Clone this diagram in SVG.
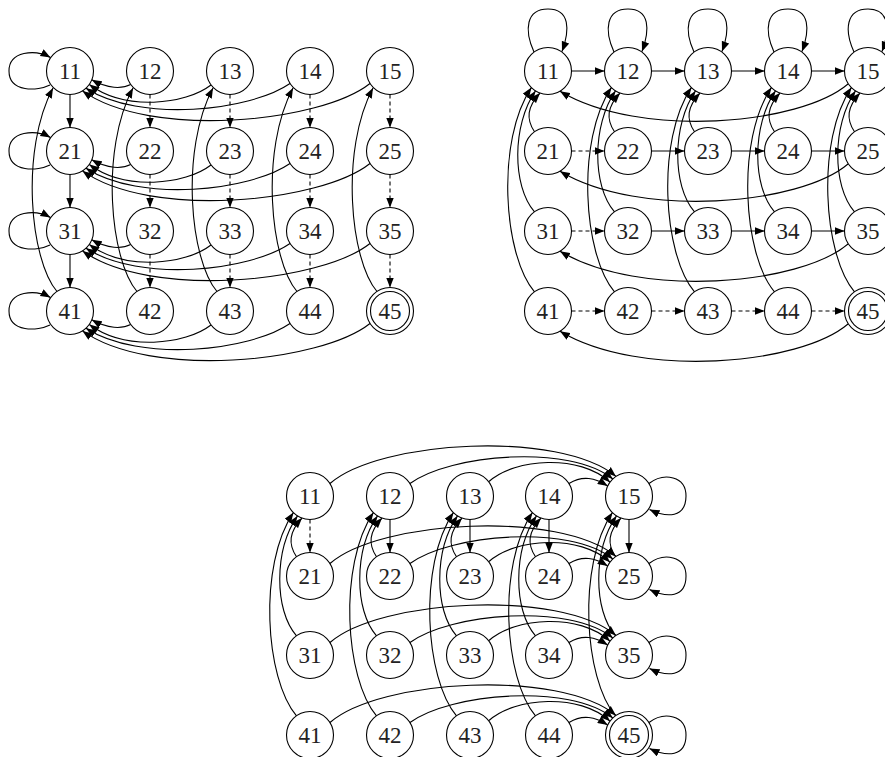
<svg xmlns="http://www.w3.org/2000/svg" width="885" height="757" viewBox="0 0 885 757">
<style>
.n circle{fill:#fff;stroke:#000;stroke-width:1.1}
.n text{font-family:"Liberation Serif","DejaVu Serif",serif;font-size:23px;text-anchor:middle;fill:#222}
.e path{fill:none;stroke:#000;stroke-width:1.1;marker-end:url(#a)}
.e path.d{stroke-dasharray:4 3}
</style>
<defs>
<marker id="a" markerUnits="userSpaceOnUse" markerWidth="10" markerHeight="8" viewBox="0 0 9 7" refX="9" refY="3.5" orient="auto"><path d="M0,0 L9,3.5 L0,7 z" fill="#000"/></marker>
</defs>
<rect width="885" height="757" fill="#fff"/>

<!-- Diagram A nodes -->
<g class="n">
<g id="a11"><circle cx="70" cy="71" r="23.5"/><text x="70" y="79">11</text></g>
<g id="a12"><circle cx="150" cy="71" r="23.5"/><text x="150" y="79">12</text></g>
<g id="a13"><circle cx="230" cy="71" r="23.5"/><text x="230" y="79">13</text></g>
<g id="a14"><circle cx="310" cy="71" r="23.5"/><text x="310" y="79">14</text></g>
<g id="a15"><circle cx="390" cy="71" r="23.5"/><text x="390" y="79">15</text></g>
<g id="a21"><circle cx="70" cy="151" r="23.5"/><text x="70" y="159">21</text></g>
<g id="a22"><circle cx="150" cy="151" r="23.5"/><text x="150" y="159">22</text></g>
<g id="a23"><circle cx="230" cy="151" r="23.5"/><text x="230" y="159">23</text></g>
<g id="a24"><circle cx="310" cy="151" r="23.5"/><text x="310" y="159">24</text></g>
<g id="a25"><circle cx="390" cy="151" r="23.5"/><text x="390" y="159">25</text></g>
<g id="a31"><circle cx="70" cy="231" r="23.5"/><text x="70" y="239">31</text></g>
<g id="a32"><circle cx="150" cy="231" r="23.5"/><text x="150" y="239">32</text></g>
<g id="a33"><circle cx="230" cy="231" r="23.5"/><text x="230" y="239">33</text></g>
<g id="a34"><circle cx="310" cy="231" r="23.5"/><text x="310" y="239">34</text></g>
<g id="a35"><circle cx="390" cy="231" r="23.5"/><text x="390" y="239">35</text></g>
<g id="a41"><circle cx="70" cy="311" r="23.5"/><text x="70" y="319">41</text></g>
<g id="a42"><circle cx="150" cy="311" r="23.5"/><text x="150" y="319">42</text></g>
<g id="a43"><circle cx="230" cy="311" r="23.5"/><text x="230" y="319">43</text></g>
<g id="a44"><circle cx="310" cy="311" r="23.5"/><text x="310" y="319">44</text></g>
<g id="a45"><circle cx="390" cy="311" r="23.5"/><circle cx="390" cy="311" r="19.5"/><text x="390" y="319">45</text></g>
</g>

<!-- Diagram B nodes -->
<g class="n">
<g id="b11"><circle cx="548" cy="71" r="23.5"/><text x="548" y="79">11</text></g>
<g id="b12"><circle cx="628" cy="71" r="23.5"/><text x="628" y="79">12</text></g>
<g id="b13"><circle cx="708" cy="71" r="23.5"/><text x="708" y="79">13</text></g>
<g id="b14"><circle cx="788" cy="71" r="23.5"/><text x="788" y="79">14</text></g>
<g id="b15"><circle cx="868" cy="71" r="23.5"/><text x="868" y="79">15</text></g>
<g id="b21"><circle cx="548" cy="151" r="23.5"/><text x="548" y="159">21</text></g>
<g id="b22"><circle cx="628" cy="151" r="23.5"/><text x="628" y="159">22</text></g>
<g id="b23"><circle cx="708" cy="151" r="23.5"/><text x="708" y="159">23</text></g>
<g id="b24"><circle cx="788" cy="151" r="23.5"/><text x="788" y="159">24</text></g>
<g id="b25"><circle cx="868" cy="151" r="23.5"/><text x="868" y="159">25</text></g>
<g id="b31"><circle cx="548" cy="231" r="23.5"/><text x="548" y="239">31</text></g>
<g id="b32"><circle cx="628" cy="231" r="23.5"/><text x="628" y="239">32</text></g>
<g id="b33"><circle cx="708" cy="231" r="23.5"/><text x="708" y="239">33</text></g>
<g id="b34"><circle cx="788" cy="231" r="23.5"/><text x="788" y="239">34</text></g>
<g id="b35"><circle cx="868" cy="231" r="23.5"/><text x="868" y="239">35</text></g>
<g id="b41"><circle cx="548" cy="311" r="23.5"/><text x="548" y="319">41</text></g>
<g id="b42"><circle cx="628" cy="311" r="23.5"/><text x="628" y="319">42</text></g>
<g id="b43"><circle cx="708" cy="311" r="23.5"/><text x="708" y="319">43</text></g>
<g id="b44"><circle cx="788" cy="311" r="23.5"/><text x="788" y="319">44</text></g>
<g id="b45"><circle cx="868" cy="311" r="23.5"/><circle cx="868" cy="311" r="19.5"/><text x="868" y="319">45</text></g>
</g>

<!-- Diagram C nodes -->
<g class="n">
<g id="c11"><circle cx="310" cy="496" r="23.5"/><text x="310" y="504">11</text></g>
<g id="c12"><circle cx="390" cy="496" r="23.5"/><text x="390" y="504">12</text></g>
<g id="c13"><circle cx="470" cy="496" r="23.5"/><text x="470" y="504">13</text></g>
<g id="c14"><circle cx="549" cy="496" r="23.5"/><text x="549" y="504">14</text></g>
<g id="c15"><circle cx="629" cy="496" r="23.5"/><text x="629" y="504">15</text></g>
<g id="c21"><circle cx="310" cy="576" r="23.5"/><text x="310" y="584">21</text></g>
<g id="c22"><circle cx="390" cy="576" r="23.5"/><text x="390" y="584">22</text></g>
<g id="c23"><circle cx="470" cy="576" r="23.5"/><text x="470" y="584">23</text></g>
<g id="c24"><circle cx="549" cy="576" r="23.5"/><text x="549" y="584">24</text></g>
<g id="c25"><circle cx="629" cy="576" r="23.5"/><text x="629" y="584">25</text></g>
<g id="c31"><circle cx="310" cy="655" r="23.5"/><text x="310" y="663">31</text></g>
<g id="c32"><circle cx="390" cy="655" r="23.5"/><text x="390" y="663">32</text></g>
<g id="c33"><circle cx="470" cy="655" r="23.5"/><text x="470" y="663">33</text></g>
<g id="c34"><circle cx="549" cy="655" r="23.5"/><text x="549" y="663">34</text></g>
<g id="c35"><circle cx="629" cy="655" r="23.5"/><text x="629" y="663">35</text></g>
<g id="c41"><circle cx="310" cy="735" r="23.5"/><text x="310" y="743">41</text></g>
<g id="c42"><circle cx="390" cy="735" r="23.5"/><text x="390" y="743">42</text></g>
<g id="c43"><circle cx="470" cy="735" r="23.5"/><text x="470" y="743">43</text></g>
<g id="c44"><circle cx="549" cy="735" r="23.5"/><text x="549" y="743">44</text></g>
<g id="c45"><circle cx="629" cy="735" r="23.5"/><circle cx="629" cy="735" r="19.5"/><text x="629" y="743">45</text></g>
</g>

<!-- Connectors -->
<g id="connectors" class="e">
<!-- A: self loops -->
<path d="M 50,85 C 38,91 9,93 9,71 C 9,51 35,49 50.5,57.5"/>
<path d="M 50,165 C 38,171 9,173 9,151 C 9,131 35,129 50.5,137.5"/>
<path d="M 50,245 C 38,251 9,253 9,231 C 9,211 35,209 50.5,217.5"/>
<path d="M 50,325 C 38,331 9,333 9,311 C 9,291 35,289 50.5,297.5"/>
<!-- A: vertical -->
<path d="M 70,94.5 L 70,127.5"/><path d="M 70,174.5 L 70,207.5"/><path d="M 70,254.5 L 70,287.5"/>
<path class="d" d="M 150,94.5 L 150,127.5"/><path class="d" d="M 150,174.5 L 150,207.5"/><path class="d" d="M 150,254.5 L 150,287.5"/>
<path class="d" d="M 230,94.5 L 230,127.5"/><path class="d" d="M 230,174.5 L 230,207.5"/><path class="d" d="M 230,254.5 L 230,287.5"/>
<path class="d" d="M 310,94.5 L 310,127.5"/><path class="d" d="M 310,174.5 L 310,207.5"/><path class="d" d="M 310,254.5 L 310,287.5"/>
<path class="d" d="M 390,94.5 L 390,127.5"/><path class="d" d="M 390,174.5 L 390,207.5"/><path class="d" d="M 390,254.5 L 390,287.5"/>
<!-- A: row edges to column 1 -->
<path d="M 130.7,84.5 C 122,89 108,89 91.8,79.8"/>
<path d="M 211,85 C 185,105 125,111 89.3,84.5"/>
<path d="M 290,83.5 C 250,111 140,123 86,88.2"/>
<path d="M 370,83.5 C 320,123 150,139 82.5,90.9"/>
<path d="M 130.7,164.5 C 122,169 108,169 91.8,159.8"/>
<path d="M 211,165 C 185,185 125,191 89.3,164.5"/>
<path d="M 290,163.5 C 250,191 140,203 86,168.2"/>
<path d="M 370,163.5 C 320,203 150,219 82.5,170.9"/>
<path d="M 130.7,244.5 C 122,249 108,249 91.8,239.8"/>
<path d="M 211,245 C 185,265 125,271 89.3,244.5"/>
<path d="M 290,243.5 C 250,271 140,283 86,248.2"/>
<path d="M 370,243.5 C 320,283 150,299 82.5,250.9"/>
<path d="M 130.7,324.5 C 122,329 108,329 91.8,319.8"/>
<path d="M 211,325 C 185,345 125,351 89.3,324.5"/>
<path d="M 290,323.5 C 250,351 140,363 86,328.2"/>
<path d="M 370,323.5 C 320,363 150,379 82.5,330.9"/>
<!-- A: row 4 to row 1 -->
<path d="M 57,291.5 C 30,260 20,150 53,88"/>
<path d="M 137,291.5 C 110,260 100,150 133,88"/>
<path d="M 217,291.5 C 190,260 180,150 213,88"/>
<path d="M 297,291.5 C 270,260 260,150 293,88"/>
<path d="M 377,291.5 C 350,260 340,150 373,88"/>

<!-- B: self loops -->
<path d="M 534,52 C 524,30 526,9 548,9 C 570,9 570,30 562,51.5"/>
<path d="M 614,52 C 604,30 606,9 628,9 C 650,9 650,30 642,51.5"/>
<path d="M 694,52 C 684,30 686,9 708,9 C 730,9 730,30 722,51.5"/>
<path d="M 774,52 C 764,30 766,9 788,9 C 810,9 810,30 802,51.5"/>
<path d="M 854,52 C 844,30 846,9 868,9 C 890,9 890,30 882,51.5"/>
<!-- B: horizontal -->
<path d="M 571.5,71 L 604.5,71"/><path d="M 651.5,71 L 684.5,71"/><path d="M 731.5,71 L 764.5,71"/><path d="M 811.5,71 L 844.5,71"/>
<path class="d" d="M 571.5,151 L 604.5,151"/><path d="M 651.5,151 L 684.5,151"/><path d="M 731.5,151 L 764.5,151"/><path d="M 811.5,151 L 844.5,151"/>
<path class="d" d="M 571.5,231 L 604.5,231"/><path d="M 651.5,231 L 684.5,231"/><path d="M 731.5,231 L 764.5,231"/><path d="M 811.5,231 L 844.5,231"/>
<path class="d" d="M 571.5,311 L 604.5,311"/><path class="d" d="M 651.5,311 L 684.5,311"/><path class="d" d="M 731.5,311 L 764.5,311"/><path class="d" d="M 811.5,311 L 844.5,311"/>
<!-- B: column 5 back to column 1 -->
<path d="M 848,84 C 800,125 640,139 560,91.2"/>
<path d="M 848,164 C 800,205 640,219 560,171.2"/>
<path d="M 848,244 C 800,285 640,299 560,251.2"/>
<path d="M 848,324 C 800,365 640,379 560,331.2"/>
<!-- B: up to row 1 -->
<path d="M 534.5,131.8 C 526,119 527,107 540,93.1"/>
<path d="M 534.5,211.8 C 512,186 512,125 535.5,90.9"/>
<path d="M 534.5,291.8 C 503,255 496,140 531.4,87.6"/>
<path d="M 614.5,131.8 C 606,119 607,107 620,93.1"/>
<path d="M 614.5,211.8 C 592,186 592,125 615.5,90.9"/>
<path d="M 614.5,291.8 C 583,255 576,140 611.4,87.6"/>
<path d="M 694.5,131.8 C 686,119 687,107 700,93.1"/>
<path d="M 694.5,211.8 C 672,186 672,125 695.5,90.9"/>
<path d="M 694.5,291.8 C 663,255 656,140 691.4,87.6"/>
<path d="M 774.5,131.8 C 766,119 767,107 780,93.1"/>
<path d="M 774.5,211.8 C 752,186 752,125 775.5,90.9"/>
<path d="M 774.5,291.8 C 743,255 736,140 771.4,87.6"/>
<path d="M 854.5,131.8 C 846,119 847,107 860,93.1"/>
<path d="M 854.5,211.8 C 832,186 832,125 855.5,90.9"/>
<path d="M 854.5,291.8 C 823,255 816,140 851.4,87.6"/>

<!-- C: self loops -->
<path d="M 649,483.5 C 664,472 686,476 686,496 C 686,518 667,518 649.5,509.5"/>
<path d="M 649,563.5 C 664,552 686,556 686,576 C 686,598 667,598 649.5,589.5"/>
<path d="M 649,642.5 C 664,631 686,635 686,655 C 686,677 667,677 649.5,668.5"/>
<path d="M 649,722.5 C 664,711 686,715 686,735 C 686,757 667,757 649.5,748.5"/>
<!-- C: row edges to column 5 -->
<path d="M 330,483.5 C 380,440 560,430 616,476.4"/>
<path d="M 410,483.5 C 450,454 570,444 612.8,479"/>
<path d="M 489,481.5 C 515,458 580,454 610,482.2"/>
<path d="M 569,483.5 C 583,475 595,478 607.7,486"/>
<path d="M 330,563.5 C 380,520 560,510 616,556.4"/>
<path d="M 410,563.5 C 450,534 570,524 612.8,559"/>
<path d="M 489,561.5 C 515,538 580,534 610,562.2"/>
<path d="M 569,563.5 C 583,555 595,558 607.7,566"/>
<path d="M 330,642.5 C 380,599 560,589 616,635.4"/>
<path d="M 410,642.5 C 450,613 570,603 612.8,638"/>
<path d="M 489,640.5 C 515,617 580,613 610,641.2"/>
<path d="M 569,642.5 C 583,634 595,637 607.7,645"/>
<path d="M 330,722.5 C 380,679 560,669 616,715.4"/>
<path d="M 410,722.5 C 450,693 570,683 612.8,718"/>
<path d="M 489,720.5 C 515,697 580,693 610,721.2"/>
<path d="M 569,722.5 C 583,714 595,717 607.7,725"/>
<!-- C: vertical down -->
<path class="d" d="M 310,519.5 L 310,552.5"/>
<path d="M 390,519.5 L 390,552.5"/>
<path d="M 470,519.5 L 470,552.5"/>
<path d="M 549,519.5 L 549,552.5"/>
<path d="M 629,519.5 L 629,552.5"/>
<!-- C: up to row 1 -->
<path d="M 296.5,556.8 C 288,544 289,532 302,518.1"/>
<path d="M 296.5,635.8 C 274,610 274,550 297.5,515.9"/>
<path d="M 296.5,715.8 C 265,679 258,565 293.4,512.6"/>
<path d="M 376.5,556.8 C 368,544 369,532 382,518.1"/>
<path d="M 376.5,635.8 C 354,610 354,550 377.5,515.9"/>
<path d="M 376.5,715.8 C 345,679 338,565 373.4,512.6"/>
<path d="M 456.5,556.8 C 448,544 449,532 462,518.1"/>
<path d="M 456.5,635.8 C 434,610 434,550 457.5,515.9"/>
<path d="M 456.5,715.8 C 425,679 418,565 453.4,512.6"/>
<path d="M 535.5,556.8 C 527,544 528,532 541,518.1"/>
<path d="M 535.5,635.8 C 513,610 513,550 536.5,515.9"/>
<path d="M 535.5,715.8 C 504,679 497,565 532.4,512.6"/>
<path d="M 615.5,556.8 C 607,544 608,532 621,518.1"/>
<path d="M 615.5,635.8 C 593,610 593,550 616.5,515.9"/>
<path d="M 615.5,715.8 C 584,679 577,565 612.4,512.6"/>
</g>
</svg>
